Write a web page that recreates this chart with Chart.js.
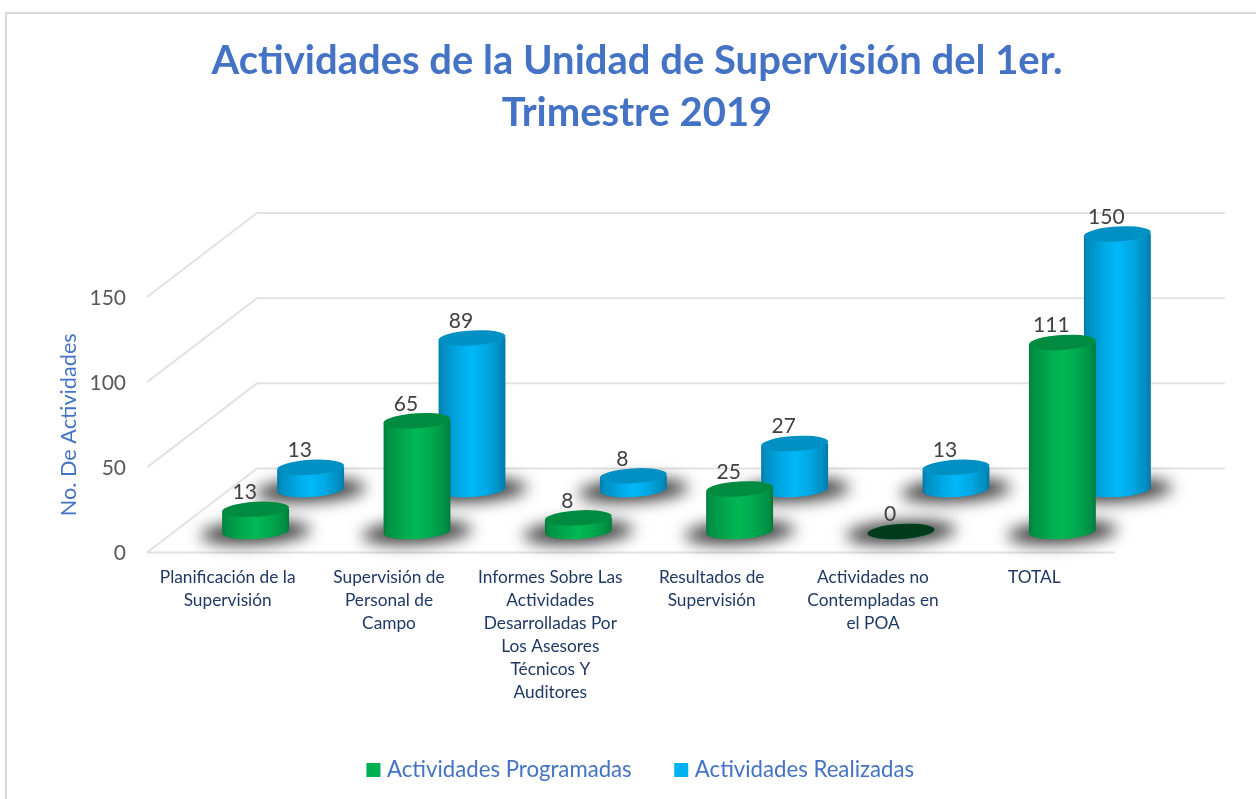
<!DOCTYPE html>
<html lang="es">
<head>
<meta charset="utf-8">
<title>Actividades de la Unidad de Supervisión</title>
<style>html,body{margin:0;padding:0;background:#fff}canvas{display:block}</style>
<script src="https://cdn.jsdelivr.net/npm/chart.js@4/dist/chart.umd.js"></script>
</head>
<body>
<canvas id="c" width="1256" height="799"></canvas>
<script>
const titleLines = ["Actividades de la Unidad de Supervisión del 1er.", "Trimestre 2019"];
const yAxisTitle = "No. De Actividades";
const categories = [
  ["Planificación de la", "Supervisión"],
  ["Supervisión de", "Personal de", "Campo"],
  ["Informes Sobre Las", "Actividades", "Desarrolladas Por", "Los Asesores", "Técnicos Y", "Auditores"],
  ["Resultados de", "Supervisión"],
  ["Actividades no", "Contempladas en", "el POA"],
  "TOTAL"
];
const programadas = [13, 65, 8, 25, 0, 111];
const realizadas = [13, 89, 8, 27, 13, 150];
const yTicks = { min: 0, max: 150, step: 50 };

const PLOT_TOP = 297, PLOT_BOTTOM = 552.5;
const DEPTH_X = 110, DEPTH_Y = 84;
const BAR_W = 67, RY = 7.5, TILT = -0.06;
const looks = [
  { solid: "#00B050", dx: 28, dy: -21, top: "#008c40", zero: "#003b1c",
    stops: ["#007a3a", "#008f44", "#00a84e", "#00b955", "#00a84e", "#008f44", "#007a3a"] },
  { solid: "#00B0F0", dx: 83, dy: -63, top: "#0090c4", zero: "#00506e",
    stops: ["#007aa8", "#008cbe", "#00a8e4", "#00b8f8", "#00a8e4", "#008cbe", "#007aa8"] }
];
const stopAt = [0, 0.05, 0.3, 0.5, 0.72, 0.93, 1];

function barGradient(ctx, x, look) {
  const g = ctx.createLinearGradient(x - BAR_W / 2, 0, x + BAR_W / 2, 0);
  look.stops.forEach((c, i) => g.addColorStop(stopAt[i], c));
  return g;
}

const scene = {
  id: "scene",
  afterLayout(chart) {
    // place the two text blocks on the reference's centre lines
    chart.titleBlock.left = 0; chart.titleBlock.right = 1274;
    chart.legend.left = 0; chart.legend.right = 1285;
    chart.legend.top -= 8; chart.legend.bottom -= 8;
  },
  beforeDraw(chart) {
    const c = chart.ctx;
    c.save();
    c.strokeStyle = "#d9d9d9"; c.lineWidth = 2;
    c.beginPath(); c.moveTo(6, 799); c.lineTo(6, 13); c.lineTo(1256, 13); c.stroke();
    c.restore();
  },
  beforeDatasetsDraw(chart) {
    const c = chart.ctx, a = chart.chartArea, y = chart.scales.y;
    c.save();
    c.strokeStyle = "#e2e2e2"; c.lineWidth = 2;
    c.beginPath();
    y.ticks.forEach(t => {
      const p = y.getPixelForValue(t.value);
      c.moveTo(a.left, p);
      c.lineTo(a.left + DEPTH_X, p - DEPTH_Y);
      c.lineTo(a.right + DEPTH_X, p - DEPTH_Y);
    });
    c.moveTo(a.left, a.bottom); c.lineTo(a.right, a.bottom);
    c.stroke();
    c.restore();
  },
  beforeDatasetDraw(chart, args) {
    const c = chart.ctx, look = looks[args.index];
    c.save();
    c.translate(look.dx, look.dy);
    args.meta.data.forEach(el => {
      c.save();
      c.filter = "blur(8px)";
      c.fillStyle = "rgba(20,20,20,0.85)";
      c.beginPath();
      c.ellipse(el.x, el.base + 1, BAR_W * 0.82, RY + 3.5, TILT, 0, Math.PI * 2);
      c.fill();
      c.restore();
      c.fillStyle = barGradient(c, el.x, look);
      c.beginPath();
      c.ellipse(el.x, el.base, BAR_W / 2, RY, TILT, 0, Math.PI * 2);
      c.fill();
    });
    const d = Math.sin(-TILT) * BAR_W / 2;
    c.save();
    c.beginPath();
    args.meta.data.forEach(el => {
      const l = el.x - BAR_W / 2, r = el.x + BAR_W / 2;
      c.moveTo(l, el.y + d); c.lineTo(r, el.y - d);
      c.lineTo(r, el.base - d); c.lineTo(l, el.base + d); c.closePath();
    });
    c.clip();
  },
  afterDatasetDraw(chart, args) {
    const c = chart.ctx, look = looks[args.index];
    c.restore();
    const values = chart.data.datasets[args.index].data;
    args.meta.data.forEach((el, i) => {
      c.fillStyle = values[i] === 0 ? look.zero : look.top;
      c.beginPath();
      c.ellipse(el.x, el.y, BAR_W / 2, RY, TILT, 0, Math.PI * 2);
      c.fill();
    });
    c.restore();
  },
  afterDatasetsDraw(chart) {
    const c = chart.ctx;
    c.save();
    c.font = "21px Lato";
    c.fillStyle = "#404040";
    c.textAlign = "center";
    c.textBaseline = "middle";
    chart.data.datasets.forEach((ds, k) => {
      chart.getDatasetMeta(k).data.forEach((el, i) => {
        c.fillText(String(ds.data[i]), el.x + looks[k].dx - 11, el.y + looks[k].dy - 17);
      });
    });
    c.restore();
  }
};

const scriptedFill = k => ctx => {
  const xs = ctx.chart.scales && ctx.chart.scales.x;
  if (ctx.dataIndex === undefined || !xs) return looks[k].solid;
  return barGradient(ctx.chart.ctx, xs.getPixelForValue(ctx.dataIndex), looks[k]);
};

new Chart(document.getElementById("c"), {
  type: "bar",
  data: {
    labels: categories,
    datasets: [
      { label: "Actividades Programadas", data: programadas, backgroundColor: scriptedFill(0), grouped: false, barThickness: BAR_W, borderWidth: 0, clip: false },
      { label: "Actividades Realizadas", data: realizadas, backgroundColor: scriptedFill(1), grouped: false, barThickness: BAR_W, borderWidth: 0, clip: false }
    ]
  },
  plugins: [scene],
  options: {
    responsive: false,
    animation: false,
    devicePixelRatio: 1,
    layout: { padding: { left: 0, right: 141, top: 0, bottom: 0 } },
    plugins: {
      tooltip: { enabled: false },
      title: {
        display: true,
        text: titleLines,
        color: "#4472C4",
        font: { family: "Lato", size: 40, weight: "bold", lineHeight: 52 / 40 },
        padding: { top: 35, bottom: PLOT_TOP - 139 }
      },
      legend: {
        position: "bottom",
        labels: {
          color: "#4472C4",
          font: { family: "Lato", size: 22.2 },
          boxWidth: 5, boxHeight: 5,
          padding: 47,
          generateLabels: chart => chart.data.datasets.map((ds, i) => ({
            text: ds.label, datasetIndex: i, fontColor: "#4472C4",
            fillStyle: looks[i].solid, strokeStyle: looks[i].solid, lineWidth: 9
          }))
        }
      }
    },
    scales: {
      x: {
        grid: { display: false }, border: { display: false },
        afterFit(s) { s.height = s.chart.height - PLOT_BOTTOM - s.chart.legend.height; },
        ticks: {
          color: "#1F3864", maxRotation: 0, minRotation: 0, autoSkip: false, padding: 5,
          font: { family: "Lato", size: 17.3, lineHeight: 23 / 17.3 }
        }
      },
      y: {
        min: yTicks.min, max: yTicks.max,
        grid: { display: false }, border: { display: false },
        afterFit(s) { s.width = 147; },
        ticks: {
          stepSize: yTicks.step, color: "#595959", padding: 13, labelOffset: 1,
          font: { family: "Lato", size: 21 }
        },
        title: {
          display: true, text: yAxisTitle, color: "#4472C4",
          font: { family: "Lato", size: 21.7 },
          padding: { top: 56, bottom: 0 }
        }
      }
    }
  }
});
</script>
</body>
</html>
